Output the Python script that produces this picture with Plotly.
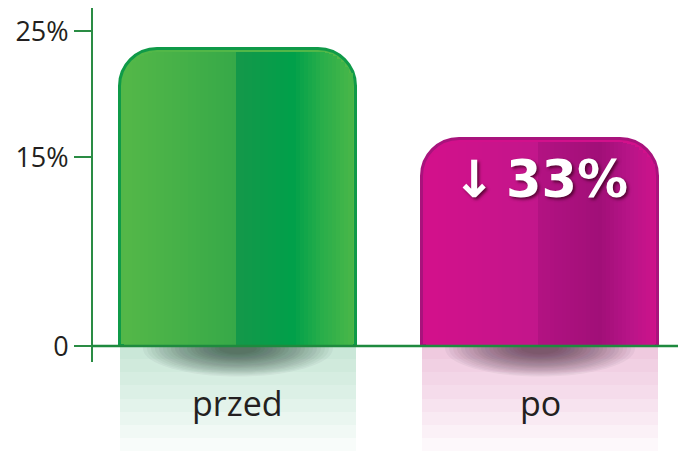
"""
Before / after bar chart with rounded glossy bars
"""

import math
import plotly.graph_objects as go

# data
categories = ["przed", "po"]
values = [23.6, 16.4]
change_label = "↓\u200933%"
tick_vals = [0, 15, 25]
tick_text = ["0", "15%", "25%"]

# styles
base_colors = ["#52b748", "#d2108b"]
border_colors = ["#0f9a48", "#a8137c"]
reflect_colors = ["rgba(40,165,90,0.032)", "rgba(205,20,135,0.032)"]
axis_green = "#2a8c44"
text_color = "#231f20"
font_family = "Open Sans"

# horizontal gradient stops per bar: (pixel offset from bar centre, colour)
gradient_stops = [
    [(-118, "#55b848"), (-1, "#36a948"), (0, "#14984a"), (55, "#00a04a"),
     (85, "#2aae4a"), (118, "#4cb848")],
    [(-118, "#d4108b"), (-1, "#c2168b"), (0, "#b21282"), (60, "#a10f78"),
     (90, "#b81488"), (118, "#d0128b")],
]

PX_PER_UNIT_X = 302.0
PX_PER_UNIT_Y = 12.6
BAR_WIDTH = 0.78
HALF_PX = BAR_WIDTH * PX_PER_UNIT_X / 2
RADIUS = 38
Y_RANGE = [-8.33, 26.83]


def hex_to_rgb(h):
    h = h.lstrip("#")
    return tuple(int(h[i:i + 2], 16) for i in (0, 2, 4))


def color_at(stops, px):
    """Linear colour interpolation along the gradient stops."""
    if px <= stops[0][0]:
        return stops[0][1]
    for (p0, c0), (p1, c1) in zip(stops[:-1], stops[1:]):
        if p0 <= px <= p1:
            t = 0 if p1 == p0 else (px - p0) / (p1 - p0)
            a, b = hex_to_rgb(c0), hex_to_rgb(c1)
            rgb = [round(a[k] + (b[k] - a[k]) * t) for k in range(3)]
            return "rgb({},{},{})".format(*rgb)
    return stops[-1][1]


def corner_drop(px_from_edge):
    """How far the rounded top falls below the bar top at a distance from the side."""
    if px_from_edge >= RADIUS:
        return 0.0
    dx = RADIUS - px_from_edge
    return RADIUS - math.sqrt(RADIUS ** 2 - dx ** 2)


fig = go.Figure()

# reflection below the baseline (stacked translucent layers fade downwards)
n_layers = 8
for k in range(n_layers, 0, -1):
    depth = Y_RANGE[0] * k / n_layers
    fig.add_trace(go.Bar(
        x=categories,
        y=[depth] * len(categories),
        width=BAR_WIDTH,
        marker=dict(color=reflect_colors, line=dict(width=0)),
        hoverinfo="skip",
        showlegend=False
    ))

# main rounded bars
fig.add_trace(go.Bar(
    x=categories,
    y=values,
    width=BAR_WIDTH,
    marker=dict(
        color=base_colors,
        cornerradius=RADIUS,
        line=dict(color=border_colors, width=3)
    ),
    hovertemplate="<b>%{x}</b>: %{y:.1f}%<extra></extra>",
    showlegend=False
))

# gradient strips, lowered under the rounded corners so they stay inside
strip_px = 4
edge = 114
for px in range(-edge, edge, strip_px):
    centre = px + strip_px / 2
    from_edge = HALF_PX - max(abs(px), abs(px + strip_px))
    drop = (corner_drop(from_edge) + 3) / PX_PER_UNIT_Y
    fig.add_trace(go.Bar(
        x=categories,
        y=[v - drop for v in values],
        width=(strip_px + 0.6) / PX_PER_UNIT_X,
        offset=px / PX_PER_UNIT_X,
        marker=dict(
            color=[color_at(s, centre) for s in gradient_stops],
            line=dict(width=0)
        ),
        hoverinfo="skip",
        showlegend=False
    ))

shapes = []
# soft shadow under each bar (nested translucent ellipses)
n_shadow = 20
for i in range(len(categories)):
    for j in range(n_shadow):
        s = 1.0 - 0.8 * j / (n_shadow - 1)
        rx = 95 / PX_PER_UNIT_X * s
        ry = 28 / PX_PER_UNIT_Y * s
        shapes.append(dict(
            type="circle", xref="x", yref="y", layer="below",
            x0=i - rx, x1=i + rx, y0=-0.2 - ry, y1=-0.2 + ry,
            fillcolor="rgba(0,0,0,0.04)", line=dict(width=0)
        ))

# vertical axis line and baseline
shapes.append(dict(
    type="line", xref="paper", yref="y", layer="above",
    x0=0, x1=0, y0=-16 / PX_PER_UNIT_Y, y1=Y_RANGE[1],
    line=dict(color=axis_green, width=2)
))
shapes.append(dict(
    type="line", xref="paper", yref="y", layer="above",
    x0=0, x1=1.02, y0=0, y1=0,
    line=dict(color="#1e8a3e", width=2.5)
))

annotations = [
    dict(
        x=cat, y=-4.55, xref="x", yref="y", text=cat, showarrow=False,
        font=dict(family=font_family, size=34, color=text_color)
    )
    for cat in categories
]
annotations.append(dict(
    x=categories[1], y=values[1], xref="x", yref="y",
    text="<b>" + change_label + "</b>", showarrow=False,
    yanchor="top", yshift=-9,
    font=dict(family="DejaVu Sans", size=51, color="white",
              shadow="2px 2px 3px rgba(60,0,30,0.75)")
))

# the page body adds an 8px offset, so the margins are trimmed to compensate
fig.update_layout(
    width=678,
    height=443,
    margin=dict(l=84, r=0, t=0, b=0),
    barmode="overlay",
    bargap=0,
    plot_bgcolor="white",
    paper_bgcolor="white",
    shapes=shapes,
    annotations=annotations,
    showlegend=False,
    xaxis=dict(
        range=[-0.483, 1.483],
        showticklabels=False,
        showgrid=False,
        zeroline=False,
        showline=False,
        ticks=""
    ),
    yaxis=dict(
        range=Y_RANGE,
        tickvals=tick_vals,
        ticktext=tick_text,
        ticks="outside",
        ticklen=17,
        tickwidth=2,
        tickcolor=axis_green,
        ticklabelstandoff=0,
        tickfont=dict(family=font_family, size=27, color=text_color),
        showgrid=False,
        showline=False,
        zeroline=False,
        layer="above traces"
    )
)

fig.write_html("out.html")
